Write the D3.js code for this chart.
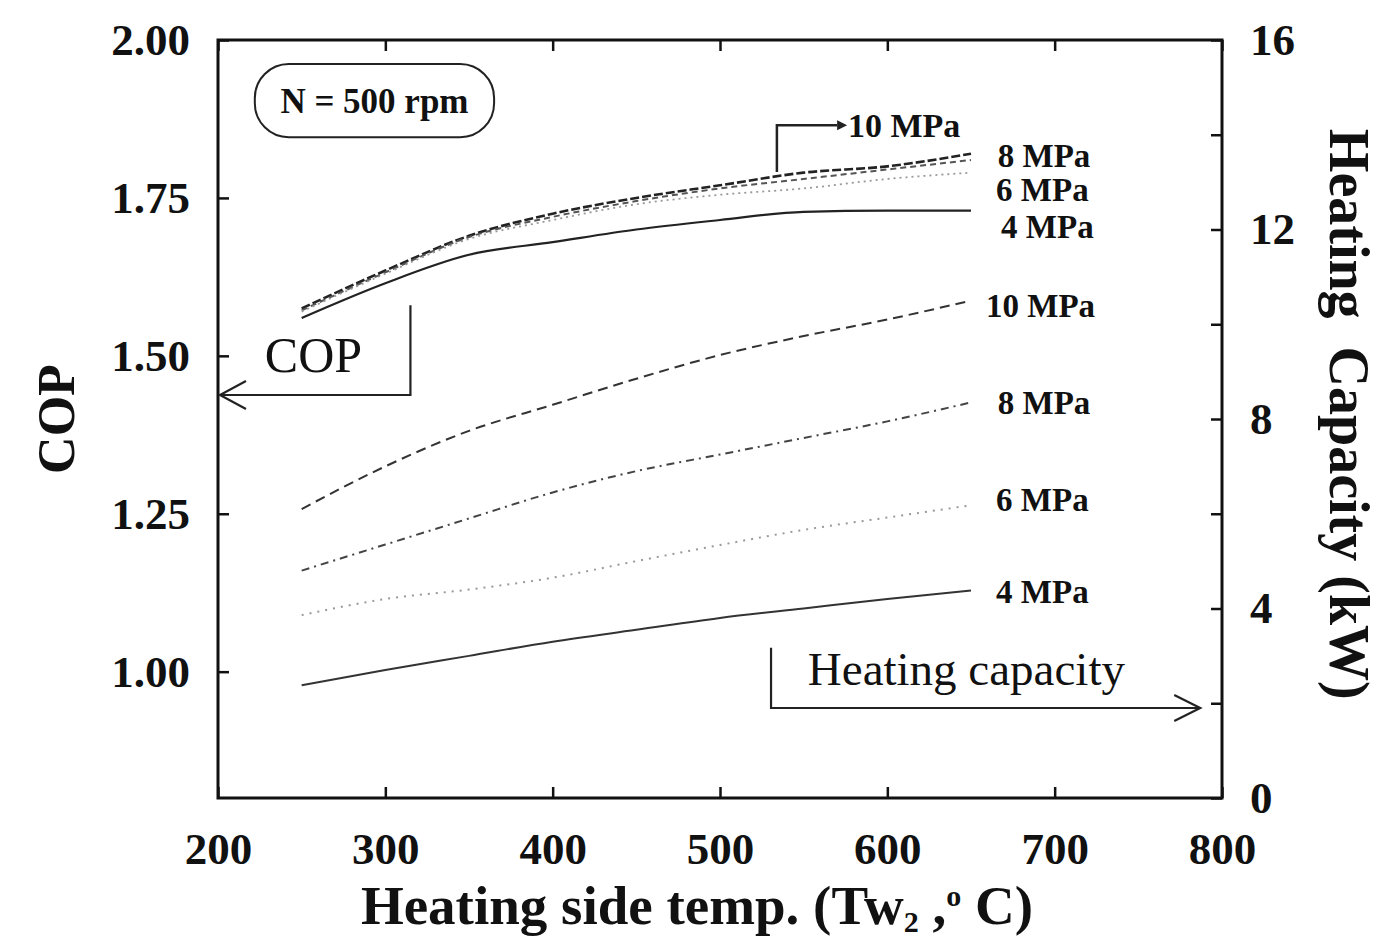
<!DOCTYPE html>
<html>
<head>
<meta charset="utf-8">
<script src="https://cdn.jsdelivr.net/npm/d3@7/dist/d3.min.js"></script>
<style>
  body { margin: 0; background: #fff; }
  svg { display: block; }
  text { font-family: "Liberation Serif", "Times New Roman", serif; fill: #111; }
</style>
</head>
<body>
<div id="chart"></div>
<script>
// x values (heating side temperature, deg C)
const temps = [250, 300, 350, 400, 450, 500, 550, 600, 650];

// COP (left axis)
const cop10 = [1.575, 1.635, 1.69, 1.725, 1.75, 1.77, 1.79, 1.80, 1.82];
const cop8 = [1.572, 1.632, 1.688, 1.72, 1.745, 1.765, 1.78, 1.795, 1.81];
const cop6 = [1.57, 1.63, 1.685, 1.715, 1.74, 1.755, 1.765, 1.78, 1.79];
const cop4 = [1.56, 1.615, 1.66, 1.68, 1.70, 1.715, 1.728, 1.73, 1.73];

// heating capacity, kW (right axis)
const heat10 = [6.1, 7.0, 7.75, 8.3, 8.85, 9.35, 9.75, 10.1, 10.5];
const heat8 = [4.8, 5.35, 5.9, 6.45, 6.9, 7.25, 7.6, 7.95, 8.35];
const heat6 = [3.86, 4.2, 4.4, 4.65, 5.0, 5.34, 5.66, 5.92, 6.18];
const heat4 = [2.38, 2.7, 3.0, 3.3, 3.55, 3.8, 4.0, 4.2, 4.38];

const xTicks = [200, 300, 400, 500, 600, 700, 800];
const copTicks = [1.00, 1.25, 1.50, 1.75, 2.00];
const heatTicks = [0, 4, 8, 12, 16];
const heatMinor = [2, 6, 10, 14];

const series = [
  { name: '10 MPa', axis: 'cop', values: cop10, dash: '9,3', color: '#222', width: 2.6 },
  { name: '8 MPa', axis: 'cop', values: cop8, dash: '6,4', color: '#555', width: 2 },
  { name: '6 MPa', axis: 'cop', values: cop6, dash: '2,4', color: '#999', width: 1.8 },
  { name: '4 MPa', axis: 'cop', values: cop4, dash: null, color: '#222', width: 2.2 },
  { name: '10 MPa', axis: 'heat', values: heat10, dash: '10,6', color: '#333', width: 2 },
  { name: '8 MPa', axis: 'heat', values: heat8, dash: '8,5,2,5', color: '#444', width: 2 },
  { name: '6 MPa', axis: 'heat', values: heat6, dash: '2,6', color: '#999', width: 2 },
  { name: '4 MPa', axis: 'heat', values: heat4, dash: null, color: '#333', width: 2 }
];

// line end labels [text, axis, x value, y value]
const endLabels = [
  ['8 MPa', 'cop', 666, 1.818],
  ['6 MPa', 'cop', 665, 1.764],
  ['4 MPa', 'cop', 668, 1.705],
  ['10 MPa', 'heat', 659, 10.4],
  ['8 MPa', 'heat', 666, 8.35],
  ['6 MPa', 'heat', 665, 6.3],
  ['4 MPa', 'heat', 665, 4.35]
];

const width = 1396;
const height = 938;
const margin = { top: 40, right: 174, bottom: 140, left: 218 };

const svg = d3.select('#chart').append('svg')
  .attr('width', width)
  .attr('height', height);

const x = d3.scaleLinear().domain([200, 800]).range([margin.left, width - margin.right]);
const yCop = d3.scaleLinear().domain([0.8, 2.0]).range([height - margin.bottom, margin.top]);
const yHeat = d3.scaleLinear().domain([0, 16]).range([height - margin.bottom, margin.top]);
const yFor = (axis) => (axis === 'cop' ? yCop : yHeat);

const plotBottom = height - margin.bottom;
const plotRight = width - margin.right;

// axes with inward ticks
const tickFont = (sel) => sel.selectAll('text')
  .style('font-size', '45px')
  .style('font-weight', 'bold')
  .style('font-family', '"Liberation Serif", serif')
  .attr('fill', '#111');

svg.append('g')
  .attr('transform', `translate(0,${plotBottom})`)
  .call(d3.axisBottom(x).tickValues(xTicks).tickSizeInner(-11).tickSizeOuter(0).tickPadding(34).tickFormat(d3.format('d')))
  .call(tickFont);

svg.append('g')
  .attr('transform', `translate(0,${margin.top})`)
  .call(d3.axisTop(x).tickValues(xTicks).tickSizeInner(-11).tickSizeOuter(0).tickFormat(''));

svg.append('g')
  .attr('transform', `translate(${margin.left},0)`)
  .call(d3.axisLeft(yCop).tickValues(copTicks).tickSizeInner(-11).tickSizeOuter(0).tickPadding(28).tickFormat(d3.format('.2f')))
  .call(tickFont);

svg.append('g')
  .attr('transform', `translate(${plotRight},0)`)
  .call(d3.axisRight(yHeat).tickValues(heatTicks).tickSizeInner(-11).tickSizeOuter(0).tickPadding(28).tickFormat(d3.format('d')))
  .call(tickFont);

svg.append('g')
  .attr('transform', `translate(${plotRight},0)`)
  .call(d3.axisRight(yHeat).tickValues(heatMinor).tickSizeInner(-11).tickSizeOuter(0).tickFormat(''));

svg.selectAll('.domain').remove();
svg.selectAll('.tick line').attr('stroke', '#111').attr('stroke-width', 2.5);

// frame
svg.append('rect')
  .attr('x', margin.left)
  .attr('y', margin.top)
  .attr('width', plotRight - margin.left)
  .attr('height', plotBottom - margin.top)
  .attr('fill', 'none')
  .attr('stroke', '#111')
  .attr('stroke-width', 3);

// curves
const lineLayer = svg.append('g');
series.forEach((s) => {
  const y = yFor(s.axis);
  const line = d3.line()
    .x((d, i) => x(temps[i]))
    .y((d) => y(d))
    .curve(d3.curveMonotoneX);
  lineLayer.append('path')
    .datum(s.values)
    .attr('d', line)
    .attr('fill', 'none')
    .attr('stroke', s.color)
    .attr('stroke-width', s.width)
    .attr('stroke-dasharray', s.dash);
});

// end labels
svg.append('g').selectAll('text')
  .data(endLabels)
  .join('text')
  .attr('x', (d) => x(d[2]))
  .attr('y', (d) => yFor(d[1])(d[3]))
  .attr('dy', '0.35em')
  .style('font-size', '33px')
  .style('font-weight', 'bold')
  .text((d) => d[0]);

// 10 MPa pointer for COP group
svg.append('path')
  .attr('d', `M${x(534)},${yCop(1.791)} V${yCop(1.865)} H${x(570)}`)
  .attr('fill', 'none')
  .attr('stroke', '#222')
  .attr('stroke-width', 2.5);
svg.append('path')
  .attr('d', `M${x(570)},${yCop(1.865) - 5} L${x(570) + 10},${yCop(1.865)} L${x(570)},${yCop(1.865) + 5} Z`)
  .attr('fill', '#222');
svg.append('text')
  .attr('x', x(576.5))
  .attr('y', yCop(1.865))
  .attr('dy', '0.35em')
  .style('font-size', '34px')
  .style('font-weight', 'bold')
  .text('10 MPa');

// N = 500 rpm box
const boxTop = yCop(1.962);
const boxBottom = yCop(1.846);
svg.append('rect')
  .attr('x', x(222))
  .attr('y', boxTop)
  .attr('width', x(365) - x(222))
  .attr('height', boxBottom - boxTop)
  .attr('rx', 34)
  .attr('fill', 'none')
  .attr('stroke', '#222')
  .attr('stroke-width', 2);
svg.append('text')
  .attr('x', (x(222) + x(365)) / 2)
  .attr('y', (boxTop + boxBottom) / 2)
  .attr('dy', '0.35em')
  .attr('text-anchor', 'middle')
  .style('font-size', '35px')
  .style('font-weight', 'bold')
  .text('N = 500 rpm');

// COP bracket arrow to the left axis
svg.append('path')
  .attr('d', `M${x(315)},${yCop(1.58)} V${yCop(1.438)} H${x(200) + 2}`)
  .attr('fill', 'none')
  .attr('stroke', '#222')
  .attr('stroke-width', 2.2);
svg.append('path')
  .attr('d', `M${x(200) + 28},${yCop(1.438) - 14} L${x(200) + 2},${yCop(1.438)} L${x(200) + 28},${yCop(1.438) + 14}`)
  .attr('fill', 'none')
  .attr('stroke', '#222')
  .attr('stroke-width', 2.2);
svg.append('text')
  .attr('x', x(228))
  .attr('y', yCop(1.474))
  .style('font-size', '50px')
  .text('COP');

// Heating capacity bracket arrow to the right axis
svg.append('path')
  .attr('d', `M${x(530.5)},${yHeat(3.17)} V${yHeat(1.9)} H${x(787)}`)
  .attr('fill', 'none')
  .attr('stroke', '#222')
  .attr('stroke-width', 2.2);
svg.append('path')
  .attr('d', `M${x(787) - 26},${yHeat(1.9) - 13} L${x(787)},${yHeat(1.9)} L${x(787) - 26},${yHeat(1.9) + 13}`)
  .attr('fill', 'none')
  .attr('stroke', '#222')
  .attr('stroke-width', 2.2);
svg.append('text')
  .attr('x', x(552.5))
  .attr('y', yHeat(2.39))
  .style('font-size', '47px')
  .text('Heating capacity');

// axis titles
const xTitle = svg.append('text')
  .attr('x', 697)
  .attr('y', 924)
  .attr('text-anchor', 'middle')
  .style('font-size', '55px')
  .style('font-weight', 'bold');
xTitle.append('tspan').text('Heating side temp. (Tw');
xTitle.append('tspan').attr('dy', 8).style('font-size', '30px').text('2');
xTitle.append('tspan').attr('dy', -8).text(' ,');
xTitle.append('tspan').attr('dy', -18).style('font-size', '30px').text('o');
xTitle.append('tspan').attr('dy', 18).text(' C)');

svg.append('text')
  .attr('transform', `translate(74,${yCop(1.4)}) rotate(-90)`)
  .attr('text-anchor', 'middle')
  .style('font-size', '52px')
  .style('font-weight', 'bold')
  .text('COP');

svg.append('text')
  .attr('transform', `translate(1330,${yHeat(8.1)}) rotate(90)`)
  .attr('text-anchor', 'middle')
  .style('font-size', '56px')
  .style('font-weight', 'bold')
  .attr('xml:space', 'preserve')
  .text('Heating  Capacity (kW)');
</script>
</body>
</html>
